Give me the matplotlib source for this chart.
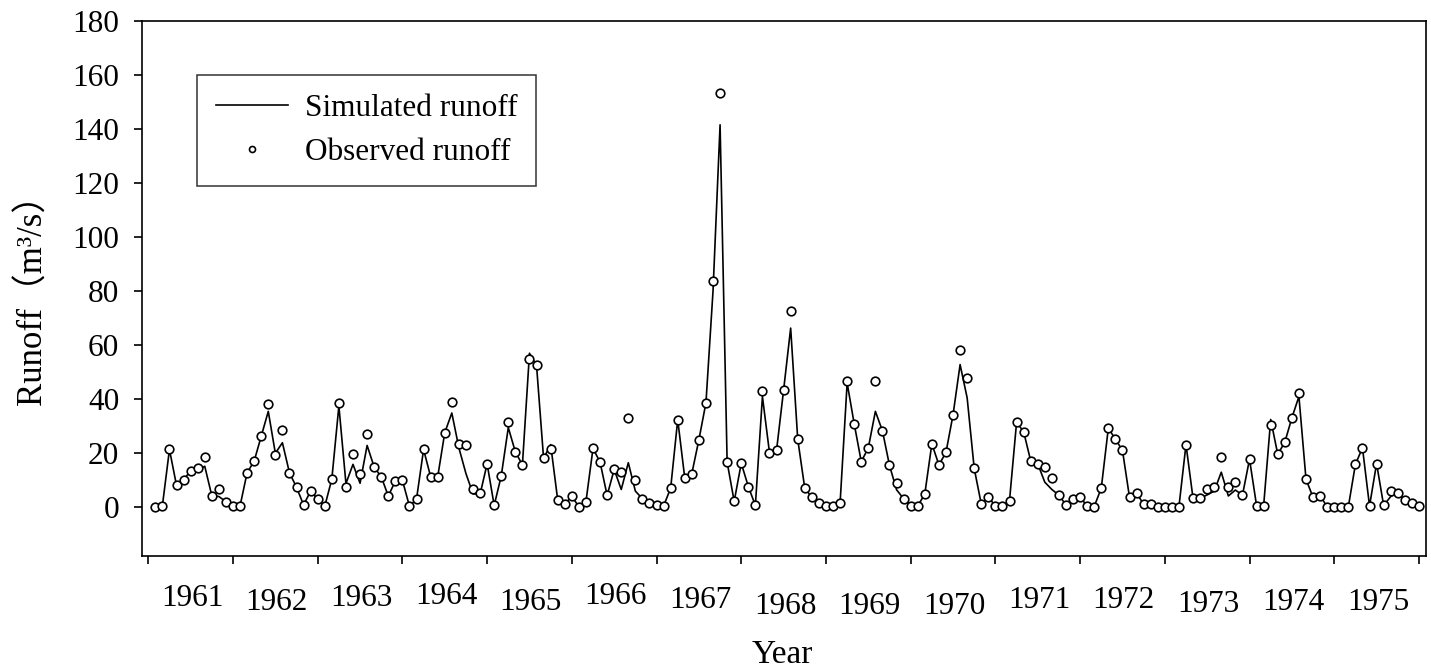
import numpy as np
import matplotlib
matplotlib.use("Agg")
import matplotlib.pyplot as plt
from matplotlib import transforms

# ---------------- data ----------------
years = [str(y) for y in range(1961, 1976)]
months = list(range(1, 181))

observed = [
    0.3, 0.6, 21.4, 8.1, 10.2, 13.5, 14.6, 18.5, 4.3, 6.6, 2.1, 0.5,      # 1961
    0.5, 12.8, 17.1, 26.3, 38.1, 19.4, 28.5, 12.8, 7.4, 0.9, 6.0, 3.0,    # 1962
    0.4, 10.4, 38.6, 7.7, 19.8, 12.2, 27.3, 14.9, 11.3, 4.2, 9.7, 10.0,   # 1963
    0.4, 3.1, 21.4, 11.3, 11.3, 27.6, 39.1, 23.6, 22.9, 6.8, 5.3, 16.1,   # 1964
    0.7, 11.6, 31.7, 20.5, 15.7, 55.0, 52.5, 18.1, 21.4, 2.7, 1.2, 4.1,   # 1965
    0.2, 2.1, 21.8, 16.7, 4.4, 14.0, 12.9, 33.1, 10.1, 3.2, 1.6, 0.9,     # 1966
    0.5, 7.1, 32.4, 10.8, 12.5, 25.0, 38.7, 83.8, 153.3, 16.7, 2.2, 16.3, # 1967
    7.7, 0.7, 43.2, 20.2, 21.1, 43.4, 72.7, 25.2, 7.0, 3.8, 1.6, 0.5,     # 1968
    0.4, 1.5, 46.7, 30.9, 16.9, 22.0, 46.7, 28.3, 15.5, 8.9, 3.2, 0.6,    # 1969
    0.5, 4.9, 23.5, 15.7, 20.3, 34.2, 58.2, 47.7, 14.4, 1.2, 3.9, 0.4,    # 1970
    0.4, 2.5, 31.4, 28.0, 17.2, 16.1, 14.9, 11.0, 4.5, 0.9, 3.1, 3.8,     # 1971
    0.4, 0.3, 7.1, 29.3, 25.2, 21.1, 3.7, 5.3, 1.1, 1.3, 0.2, 0.2,        # 1972
    0.2, 0.2, 23.2, 3.3, 3.4, 6.6, 7.6, 18.8, 7.6, 9.3, 4.5, 17.8,        # 1973
    0.6, 0.6, 30.6, 19.6, 24.1, 33.1, 42.2, 10.4, 3.7, 4.3, 0.2, 0.2,     # 1974
    0.2, 0.2, 15.9, 22.0, 0.5, 16.2, 0.7, 6.0, 5.4, 2.6, 1.5, 0.6,        # 1975
]

simulated = [
    0.3, 0.6, 21.4, 8.1, 10.2, 13.5, 13.5, 15.2, 4.3, 4.0, 2.1, 0.5,      # 1961
    0.5, 12.8, 17.1, 26.3, 35.5, 20.0, 23.9, 12.8, 7.4, 0.9, 6.0, 3.0,    # 1962
    0.4, 10.4, 37.5, 8.8, 15.9, 8.9, 22.9, 14.9, 11.3, 4.2, 9.7, 10.0,    # 1963
    0.4, 3.1, 21.4, 11.3, 11.3, 27.6, 34.9, 22.0, 12.5, 5.0, 4.8, 16.1,   # 1964
    0.7, 11.6, 29.5, 20.5, 15.7, 57.0, 52.5, 18.1, 23.2, 2.7, 1.2, 4.1,   # 1965
    0.2, 2.1, 21.8, 16.7, 4.4, 14.0, 6.6, 16.5, 6.0, 3.2, 1.6, 0.9,       # 1966
    0.5, 7.1, 32.4, 10.8, 12.5, 25.0, 38.7, 80.0, 141.5, 16.7, 2.2, 16.3, # 1967
    7.7, 0.7, 41.0, 20.2, 21.1, 43.4, 66.3, 25.2, 7.0, 3.8, 1.6, 0.5,     # 1968
    0.4, 1.5, 46.0, 30.9, 16.9, 22.0, 35.5, 28.3, 15.5, 6.5, 3.2, 0.6,    # 1969
    0.5, 4.9, 23.5, 15.7, 20.3, 34.2, 52.8, 40.5, 14.4, 1.2, 3.9, 0.4,    # 1970
    0.4, 2.5, 31.4, 28.0, 17.2, 16.1, 9.3, 6.6, 4.5, 0.9, 3.1, 3.8,       # 1971
    0.4, 0.3, 7.1, 29.3, 25.2, 21.1, 3.7, 5.3, 1.1, 1.3, 0.2, 0.2,        # 1972
    0.2, 0.2, 23.2, 3.3, 3.4, 4.6, 6.0, 13.0, 4.2, 6.4, 4.5, 17.8,        # 1973
    0.6, 0.6, 32.5, 19.6, 24.1, 33.1, 41.0, 10.4, 3.7, 4.3, 0.2, 0.2,     # 1974
    0.2, 0.2, 15.9, 22.0, 0.5, 16.2, 0.7, 4.0, 5.4, 2.6, 1.5, 0.6,        # 1975
]

y_ticks = list(range(0, 181, 20))

# ---------------- style ----------------
plt.rcParams['font.family'] = ['Liberation Serif', 'Noto Sans CJK SC', 'DejaVu Sans']
W, H = 1431, 668
fig = plt.figure(figsize=(W / 100, H / 100), dpi=100)

left_px, right_px, top_px, bottom_px = 141.5, 1426, 20.7, 556
ax = fig.add_axes([left_px / W, 1 - bottom_px / H,
                   (right_px - left_px) / W, (bottom_px - top_px) / H])

ax.plot(months, simulated, color='black', lw=1.2, label='Simulated runoff', zorder=2)
ax.plot(months, observed, linestyle='none', marker='o', ms=6.2, mfc='white',
        mec='black', mew=1.2, label='Observed runoff', zorder=3)

ax.set_xlim(-0.96, 181.0)
ax.set_ylim(-18, 180)

ax.set_yticks(y_ticks)
ax.set_yticklabels([str(v) for v in y_ticks])
ax.set_xticks([12 * k for k in range(len(years) + 1)])
ax.set_xticklabels([])

for s in ax.spines.values():
    s.set_linewidth(1.2)
ax.tick_params(axis='both', direction='out', length=6, width=1.2, colors='black')
ax.tick_params(axis='y', labelsize=22.5, pad=10)

# year labels centred in each year
year_dy = [0, 4, 0, -2, 4, -2, 2, 8, 8, 8, 3, 3, 7, 5, 5]
base_y = 598
for k, (yr, dy) in enumerate(zip(years, year_dy)):
    trans = transforms.blended_transform_factory(ax.transData, fig.transFigure)
    ax.text(12 * k + 6.2, 1 - (base_y + dy) / H, yr, transform=trans,
            ha='center', va='center', fontsize=22.5)

fig.text(782 / W, 1 - 655 / H, 'Year', ha='center', va='center', fontsize=24)
fig.text(33 / W, 1 - 291 / H, 'Runoff（m³/s）', ha='center', va='center',
         rotation=90, fontsize=25)

leg = ax.legend(loc='upper left',
                bbox_to_anchor=((197 - left_px) / (right_px - left_px),
                                (bottom_px - 75) / (bottom_px - top_px)),
                borderaxespad=0, fontsize=22.5, frameon=True, fancybox=False,
                edgecolor='black', handlelength=2.3, handletextpad=0.55,
                labelspacing=0.5, borderpad=0.6, markerscale=0.7)
leg.get_frame().set_linewidth(1.1)

fig.savefig('out.png', dpi=100)
